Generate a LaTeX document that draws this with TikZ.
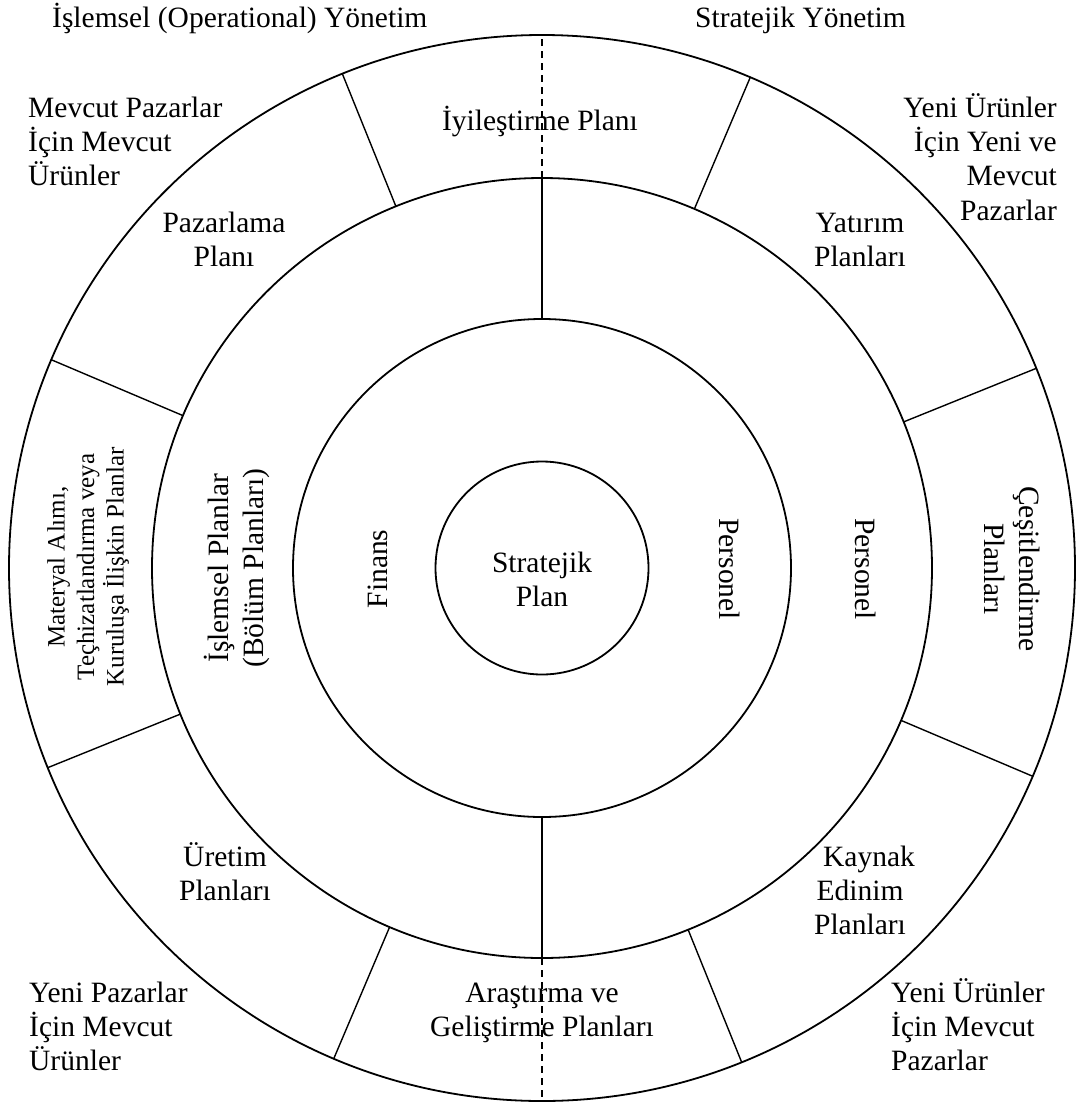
\documentclass[tikz,border=0pt]{standalone}
\usepackage{fontspec}
\setmainfont{Liberation Serif}
\newcommand\mlL[1]{\vtop{\halign{##\hfil\cr #1\crcr}}}
\newcommand\mlC[1]{\vtop{\halign{\hfil##\hfil\cr #1\crcr}}}
\newcommand\mlR[1]{\vtop{\halign{\hfil##\cr #1\crcr}}}
\tikzset{
  ring/.style={circle, draw, line width=1.8pt, inner sep=0pt, outer sep=0pt},
  divider/.style={line width=1.4pt},
  guide/.style={line width=1.3pt, dash pattern=on 7pt off 5pt},
  lbl/.style={inner sep=0pt, font=\fontsize{29.5}{34.4}\selectfont},
  smalllbl/.style={inner sep=0pt, font=\fontsize{25}{29.5}\selectfont},
}
\begin{document}
\begin{tikzpicture}[x=1pt,y=-1pt]
\useasboundingbox (0,0) rectangle (1080,1106);
\coordinate (c) at (542,568);
\node[ring, minimum size=1066pt] (outer) at (c) {};
\node[ring, minimum size=780pt] (mid) at (c) {};
\node[ring, minimum size=498pt] (inner) at (c) {};
\node[ring, minimum size=213pt] (core) at (c) {};
\foreach \a in {22.5,67.5,112.5,157.5,202.5,247.5,292.5,337.5}
  \draw[divider] (mid.\a) -- (outer.\a);
\draw[divider] (inner.90) -- (mid.90);
\draw[divider] (inner.270) -- (mid.270);
\draw[guide] (mid.90) -- (outer.90);
\draw[guide] (mid.270) -- (outer.270);
% outside labels
\node[lbl, anchor=base west] (opmgmt) at (52,27) {İşlemsel (Operational) Yönetim};
\node[lbl, anchor=base west] (stratmgmt) at (695,27) {Stratejik Yönetim};
\node[lbl, anchor=base west] (q1) at (28,117) {\mlL{Mevcut Pazarlar\cr İçin Mevcut\cr Ürünler}};
\node[lbl, anchor=base east] (q2) at (1057,117) {\mlR{Yeni Ürünler\cr İçin Yeni ve\cr Mevcut\cr Pazarlar}};
\node[lbl, anchor=base west] (q3) at (29,1002) {\mlL{Yeni Pazarlar\cr İçin Mevcut\cr Ürünler}};
\node[lbl, anchor=base west] (q4) at (891,1002) {\mlL{Yeni Ürünler\cr İçin Mevcut\cr Pazarlar}};
% outer ring
\node[lbl, anchor=base] (iyi) at (540,130) {İyileştirme Planı};
\node[lbl, anchor=base] (paz) at (224,232) {\mlC{Pazarlama\cr Planı}};
\node[lbl, anchor=base] (yat) at (860,232) {\mlC{Yatırım\cr Planları}};
\node[lbl, anchor=base] (uret) at (225,866) {\mlC{Üretim\cr Planları}};
\node[lbl, anchor=base] (kay) at (860,866) {\mlC{\kern18pt Kaynak\cr Edinim\cr Planları}};
\node[lbl, anchor=base] (arge) at (542,1002) {\mlC{Araştırma ve\cr Geliştirme Planları}};
\node[smalllbl, rotate=90] (mat) at (88,567) {\mlC{Materyal Alımı,\cr Teçhizatlandırma veya\cr Kuruluşa İlişkin Planlar}};
\node[lbl, rotate=-90] (cesit) at (1012,569) {\mlC{Çeşitlendirme\cr Planları}};
% middle ring
\node[lbl, rotate=90] (islp) at (237,568) {\mlC{İşlemsel Planlar\cr (Bölüm Planları)}};
\node[lbl, rotate=-90] (pers2) at (866,569) {Personel};
% inner ring
\node[lbl, rotate=90] (fin) at (378,569) {Finans};
\node[lbl, rotate=-90] (pers1) at (730,569) {Personel};
% core
\node[lbl, anchor=base] (corelbl) at (542,572) {\mlC{Stratejik\cr Plan}};
\end{tikzpicture}
\end{document}
